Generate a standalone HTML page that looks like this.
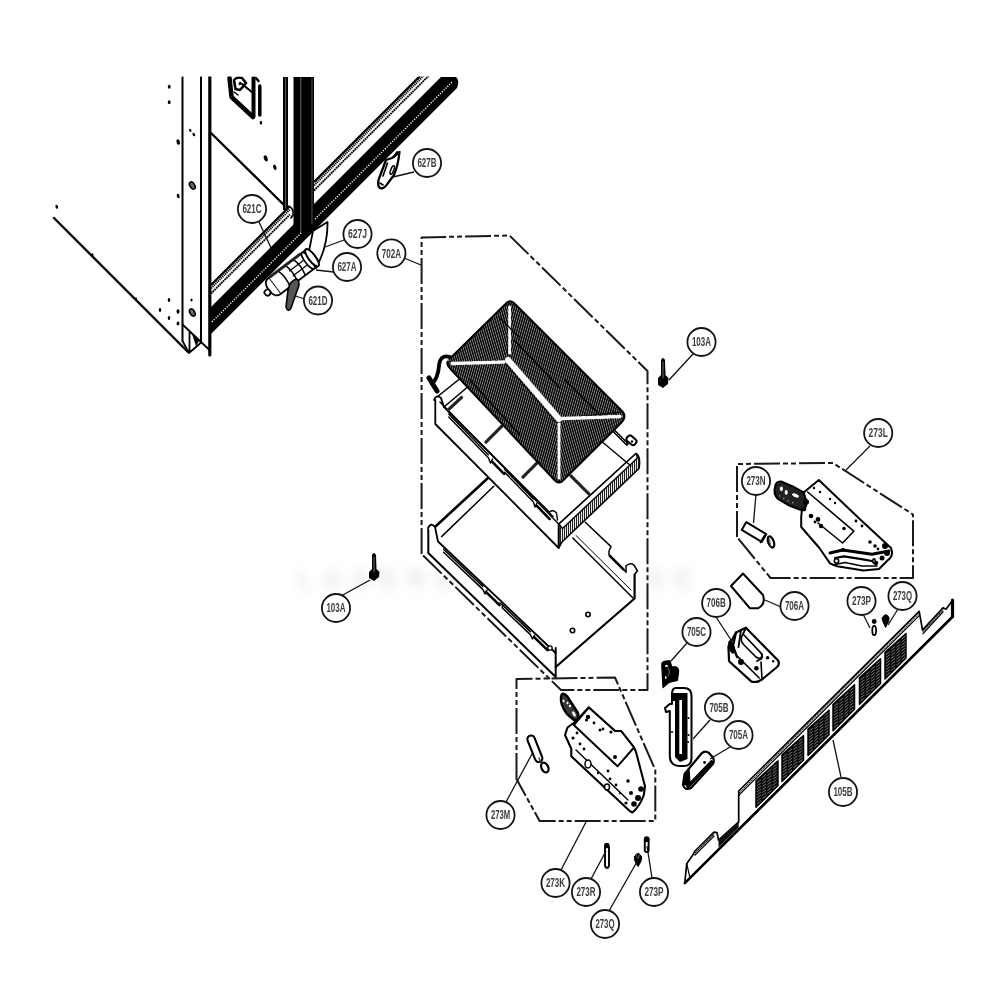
<!DOCTYPE html>
<html><head><meta charset="utf-8"><style>
html,body{margin:0;padding:0;background:#fff;width:1000px;height:1000px;overflow:hidden}
svg{display:block;filter:blur(0.5px)}
text{font-family:"Liberation Sans",sans-serif}
</style></head><body>
<svg width="1000" height="1000" viewBox="0 0 1000 1000">
<defs>
<pattern id="vs" width="2" height="4" patternUnits="userSpaceOnUse"><rect x="0" y="0" width="1.1" height="4" fill="#222"/></pattern>
<pattern id="vs2" width="2.2" height="4" patternUnits="userSpaceOnUse" patternTransform="rotate(8)"><rect x="0" y="0" width="1.2" height="4" fill="#1a1a1a"/></pattern>
<pattern id="hA" width="2.2" height="4" patternUnits="userSpaceOnUse" patternTransform="rotate(16)"><rect width="2.2" height="4" fill="#8a8a8a"/><rect x="0" y="0" width="1.35" height="4" fill="#000"/></pattern>
<pattern id="hB" width="2.2" height="4" patternUnits="userSpaceOnUse" patternTransform="rotate(-16)"><rect width="2.2" height="4" fill="#8a8a8a"/><rect x="0" y="0" width="1.35" height="4" fill="#000"/></pattern>
<clipPath id="cabclip"><rect x="0" y="76.5" width="1000" height="924"/></clipPath>
<clipPath id="coilclip"><path d="M504.5 305 Q509.6 298 515 304 L621 410 Q628 416 621 423 L564 479.5 Q559 485.5 554 479.5 L450.5 369 Q444 363 450.5 358 Z"/></clipPath>
<filter id="blur"><feGaussianBlur stdDeviation="6"/></filter>
</defs>
<rect width="1000" height="1000" fill="#fff"/>
<g id="cabinet" fill="none" stroke="#000" stroke-linecap="round" stroke-linejoin="round" clip-path="url(#cabclip)">
  <!-- left panel bottom edge -->
  <line x1="54" y1="218" x2="188" y2="352" stroke-width="2.4"/>
  <!-- post lines -->
  <line x1="182.5" y1="77" x2="182.5" y2="341" stroke-width="2"/>
  <line x1="201" y1="77" x2="201" y2="342" stroke-width="2"/>
  <line x1="209.8" y1="77" x2="209.8" y2="355" stroke-width="3.2"/>
  <!-- foot -->
  <path d="M182.5 324.5 L201 342 L209.5 350 M189.5 331 L189.5 352 M182.5 341 L189 353 L200.5 343" stroke-width="1.8"/>
  <path d="M192 334 L199 341 L196 346 Z" fill="#000" stroke="none"/>
  <!-- door diagonal -->
  <line x1="211" y1="133" x2="284" y2="205" stroke-width="2.4"/>
  <!-- bars -->
  <rect x="283" y="77" width="5" height="133" fill="#000" stroke="none"/>
  <line x1="285.6" y1="78" x2="285.6" y2="208" stroke="#777" stroke-width="0.8"/>
  <!-- thin rail (door bottom + upper rail) -->
  <g>
  <line x1="211" y1="285.0" x2="290" y2="206.0" stroke-width="2.2" stroke-linecap="butt"/>
  <line x1="211" y1="288.3" x2="290" y2="209.3" stroke-width="2.2" stroke-dasharray="1.2 0.8" stroke-linecap="butt"/>
  <line x1="211" y1="293.5" x2="290" y2="214.5" stroke-width="1.9" stroke-dasharray="1.8 0.6" stroke-linecap="butt"/>
  <line x1="314" y1="182.0" x2="432" y2="64.0" stroke-width="2.2" stroke-linecap="butt"/>
  <line x1="314" y1="185.3" x2="432" y2="67.3" stroke-width="2.2" stroke-dasharray="1.2 0.8" stroke-linecap="butt"/>
  <line x1="314" y1="190.5" x2="432" y2="72.5" stroke-width="1.9" stroke-dasharray="1.8 0.6" stroke-linecap="butt"/>
  <path d="M287 206 Q294 207 293 215 L291 218" stroke-width="1.6"/>
  </g>
  <!-- thick bar -->
  <path d="M210 308 L441 77 L456 77 Q460 80 457 88 L210 335 Z" fill="#000" stroke="none"/>
  <line x1="212" y1="322" x2="452" y2="82" stroke="#fff" stroke-width="1.3" stroke-dasharray="1.3 1.3" stroke-linecap="butt"/>
    <rect x="293.5" y="77" width="20.5" height="155" fill="#000" stroke="none"/>
  <line x1="300.8" y1="78" x2="300.8" y2="232" stroke="#777" stroke-width="0.9"/>
  <line x1="312" y1="78" x2="312" y2="224" stroke="#666" stroke-width="0.8"/>
  <!-- hinge bracket at top -->
  <path d="M229.5 78 L231.5 97 L253 117" stroke-width="4.5"/>
  <path d="M234 80 Q237 76.5 242 78 L246 83 L240 90 L235.5 89 Z" fill="#fff" stroke-width="2.6"/>
  <ellipse cx="240" cy="83.5" rx="1.3" ry="1.8" fill="#000" stroke="none" transform="rotate(30 240 83.5)"/>
  <path d="M242 84 L253 93" stroke-width="2.2"/>
  <path d="M253.5 78 L253.5 116" stroke-width="4"/>
  <path d="M259.8 86 L259.8 115" stroke-width="3.5"/>
  <path d="M256 78 L258.5 81" stroke-width="2.5"/>
  <path d="M234 92 L238 95" stroke-width="1.5"/>
  <ellipse cx="260.9" cy="122.8" rx="1.2" ry="2" fill="#000" stroke="none"/>
  <!-- dots -->
  <g fill="#000" stroke="none">
    <ellipse cx="56.8" cy="206.8" rx="1.3" ry="2" transform="rotate(-15 56.8 206.8)"/>
    <ellipse cx="169.2" cy="86.8" rx="1.4" ry="2"/>
    <ellipse cx="169.2" cy="102.2" rx="1.4" ry="2"/>
    <ellipse cx="178.2" cy="142" rx="1.7" ry="2.8" transform="rotate(-15 178.2 142)"/>
    <ellipse cx="178.2" cy="196" rx="1.4" ry="2.3" transform="rotate(-15 178.2 196)"/>
    <ellipse cx="190.3" cy="130.4" rx="1.1" ry="1.7" transform="rotate(-30 190.3 130.4)"/>
    <ellipse cx="193.8" cy="134.6" rx="1.2" ry="1.8" transform="rotate(-30 193.8 134.6)"/>
    <ellipse cx="265.7" cy="158.4" rx="1.8" ry="3.2" transform="rotate(-20 265.7 158.4)"/>
    <ellipse cx="274.8" cy="167.3" rx="1.6" ry="2.8" transform="rotate(-20 274.8 167.3)"/>
    <ellipse cx="169" cy="300" rx="1.3" ry="1.9"/>
    <ellipse cx="160" cy="310" rx="1.3" ry="1.9"/>
    <ellipse cx="178" cy="311.5" rx="1.5" ry="2.2"/>
    <ellipse cx="178" cy="323.5" rx="1.4" ry="2"/>
    <ellipse cx="169" cy="318" rx="1.3" ry="1.9"/>
    <ellipse cx="191.5" cy="300" rx="1.1" ry="1.6"/>
    <ellipse cx="92.5" cy="255" rx="1" ry="1.8"/>
    <ellipse cx="136" cy="299" rx="1" ry="1.8"/>
  </g>
  <g fill="#666" stroke="#000" stroke-width="1.5">
    <ellipse cx="192.3" cy="185.5" rx="2.4" ry="4" transform="rotate(-30 192.3 185.5)"/>
    <ellipse cx="192.3" cy="312.5" rx="2.4" ry="4" transform="rotate(-30 192.3 312.5)"/>
  </g>
  <!-- 627B hook -->
  <path d="M386 160 L378.5 180 Q377 187.5 381.5 188.5 Q385 188 388 183 L394 175 Q398 166 399.5 152 L392 158 Z" fill="#fff" stroke-width="2.3"/>
  <ellipse cx="392.3" cy="170" rx="1.5" ry="4.5" transform="rotate(22 392.3 170)" fill="#fff" stroke-width="1.6"/>
  <path d="M387.5 163 L383 176 M380 183 L383 185" stroke-width="1.6"/>
  <path d="M394 157 L397 152" stroke-width="2"/>
  <!-- hinge / cylinder parts 621C 627A 627J 621D -->
  <path d="M313 231 L327.5 222 Q328 246 316 268 L309 251 Z" fill="#fff" stroke-width="1.8"/>
  <g transform="translate(274.5 286) rotate(-37)" stroke-width="1.8" fill="#fff">
    <rect x="0" y="-10" width="47" height="20"/>
    <path d="M0 -10 Q-7 -10 -7 0 Q-7 10 0 10"/>
    <circle cx="-9.5" cy="1" r="3"/>
    <path d="M12 -10 Q15 0 12 10 M21 -10 Q24 0 21 10 M31 -10 Q34 0 31 10" stroke-width="1.5" fill="none"/>
    <path d="M21 -3 L40 -3 M21 3 L40 3" stroke-width="1.2"/>
    <ellipse cx="42" cy="0" rx="3" ry="10" stroke-width="1.5"/>
    <ellipse cx="47" cy="0" rx="3.5" ry="10.5" stroke-width="2"/>
    <path d="M2 -10 L40 -10" stroke-width="3" stroke="#222" stroke-dasharray="1 1"/>
  </g>
  <path d="M297 279 Q301 283 297 291 L291 308 Q288 313 286 307 L288 290 Q290 280 297 279 Z" fill="#555" stroke-width="1.6"/>
</g>

<g id="middle" fill="none" stroke="#000" stroke-linecap="round" stroke-linejoin="round">
  <!-- watermark -->
  <text x="500" y="588" text-anchor="middle" font-size="26" font-weight="bold" fill="#e6e6e6" stroke="none" filter="url(#blur)" letter-spacing="10">LASERENTERPRISE</text>
  <!-- 702A dashed box -->
  <path d="M421.6 554 L421.6 237.5 L509.5 235.5 L647.5 371 L647.5 690 L561 690 Z" stroke="#1a1a1a" stroke-width="2" stroke-dasharray="26 3 5 3 5 3" stroke-linecap="butt"/>
  <!-- 103A screws -->
  <g fill="#000" stroke="none">
    <path d="M661 360 Q663 356 665 360 L665.5 375 L668.5 378 L668 384 L663 388 L658 385 L658 378 L661 375 Z"/>
    <path d="M372 555 Q374 551 376 555 L376.5 569 L379.5 572 L379 577 L374 581 L369 578 L369 572 L372 569 Z"/>
  </g>
  <line x1="663" y1="362" x2="663" y2="378" stroke="#888" stroke-width="0.8"/>
  <line x1="374" y1="557" x2="374" y2="572" stroke="#888" stroke-width="0.8"/>

  <!-- lower tray -->
  <g stroke-width="1.8" fill="#fff">
    <path d="M436 526 L488 478 L584 521 L637 566 L636 600 L556.6 667 L555.7 677 L428.3 553 L428.3 529 Z" stroke="none"/>
    <path d="M436 526 L488 478" stroke-width="2.6"/>
    <path d="M441.6 536.6 L493.8 486.2" stroke-width="1.5"/>
    <path d="M428.3 529 L428.3 553 L555.7 677 L555.7 648" stroke-width="2"/>
    <path d="M428 528 Q431 522 435 527 L438 541.5 L555.7 653" />
    <path d="M555.7 667 L634.6 598.5 L634.6 574" stroke-width="2.2"/>
    <path d="M626 572 L626 566 Q630 562 634 565 L637.5 571 L634.6 574" stroke-width="1.5"/>
    <path d="M572.8 538 L633 598" stroke-width="1.5"/>
    <path d="M576 535.5 L631 590" stroke-width="1"/>
    <path d="M584 521 L611 546.6 L609 551 L609 555 L626 572" stroke-width="1.5"/>
    <path d="M610 556 L624 570" stroke-width="2.6" stroke-dasharray="1.2 1"/>
    <path d="M443.6 549.3 L482.8 586.4 M443.6 552.3 L482.8 589.4 L485 594 L487 590" stroke-width="1.5"/>
    <path d="M502.4 605 L530.4 631.6 M502.4 608 L530.4 634.6 L532.5 639 L534.5 635.5" stroke-width="1.5"/>
    <path d="M486 592 L500 605.5 M534 637 L548 650.5" stroke-width="2.6" stroke-dasharray="1.2 1"/>
    <path d="M500 603 L502.4 605 L502.4 608" stroke-width="1.5"/>
    <circle cx="550" cy="648" r="2.2" stroke-width="1.3"/>
    <circle cx="588" cy="614.5" r="2.2" stroke-width="1.6"/>
    <circle cx="572.5" cy="630.5" r="2.2" stroke-width="1.6"/>
  </g>

  <!-- upper tray -->
  <g stroke-width="1.8" fill="#fff">
    <path d="M434.5 398 L460 378 L615 431 L639 462 L640 468 L559 547 L435.3 424 Z" stroke="none"/>
    <path d="M434 400 Q436 394 441 398 L444 407 L553 516" />
    <path d="M435.3 400 L435.3 424 L558.7 548 L558.7 524" />
    <path d="M440 402 L558.7 524" stroke-width="1.4"/>
    <path d="M444 407 L470 385" stroke-width="1.6"/>
    <path d="M437 397 L462 377" stroke-width="1.6"/>
    <path d="M448.8 414 L488.4 454.8 M448.8 417 L488.4 457.8 L490.5 463 L492.5 459" stroke-width="1.5"/>
    <path d="M504.6 469.3 L533.4 498.9 M504.6 472.3 L533.4 501.9 L535 507 L537 503" stroke-width="1.5"/>
    <path d="M492.5 462 L504.6 474.5 M537 506 L549.6 519" stroke-width="2.6" stroke-dasharray="1.2 1"/>
    <path d="M549.6 512 Q553 509 556.5 513 L557.5 520" stroke-width="1.4"/>
    <!-- right hatched face -->
    <path d="M558.7 524 L636 453.5 Q641 456 639 468.5 L562 542 L558.7 548 Z" fill="url(#vs)" stroke-width="1.6"/>
    <path d="M559 524 L636 453.5 L637.5 458 L562.5 528.5 Z" fill="#fff" stroke-width="1.4"/>
    <rect x="-5.2" y="-3.3" width="10.4" height="6.6" rx="2.6" transform="translate(631.5 440.3) rotate(40)" stroke-width="2"/>
    <circle cx="632" cy="441.5" r="1.2" fill="#000" stroke="none"/>
    <path d="M612.5 429.5 L627 444" stroke-width="3.2"/>
    <path d="M613 430 L626 443" stroke="#fff" stroke-width="0.9" stroke-dasharray="1 1.5"/>
    <path d="M600 440 L631 466" stroke-width="1.4"/>
  </g>
  <!-- cross members -->
  <g stroke="#222" stroke-width="3.2" stroke-dasharray="1.6 0.8">
    <path d="M486 442 L502 426"/>
    <path d="M523 477 L539 461"/>
    <path d="M571 476 L589 494"/>
    <path d="M448 410 L462 397"/>
  </g>

  <!-- coil -->
  <g clip-path="url(#coilclip)">
    <path d="M509.6 290 L508 360 L440 364 L440 290 Z" fill="url(#hB)"/>
    <path d="M509.6 290 L640 410 L559 419 L508 360 Z" fill="url(#hA)"/>
    <path d="M440 364 L508 360 L559 419 L559 495 L440 495 Z" fill="url(#hA)"/>
    <path d="M559 419 L640 410 L640 495 L559 495 Z" fill="url(#hB)"/>
    <path d="M508 360 L559 419" stroke="#fff" stroke-width="6"/>
    <path d="M508 360 L559 419" stroke="#000" stroke-width="1" transform="translate(-4 2)"/>
    <path d="M452 363.5 L504 362 M562 418.5 L621 416.5" stroke="#fff" stroke-width="3.5" stroke-dasharray="3 2"/>
    <path d="M509.6 307 L509.6 355 M559 424 L559 478" stroke="#fff" stroke-width="3" stroke-dasharray="2 2"/>
    <path d="M500 318 L520 338 M514 340 L560 388 M470 380 L520 435 M565 380 L600 415" stroke="#000" stroke-width="1.4"/>
  </g>
  <path id="coilpath" d="M504.5 305 Q509.6 298 515 304 L621 410 Q628 416 621 423 L564 479.5 Q559 485.5 554 479.5 L450.5 369 Q444 363 450.5 358 Z" stroke="#000" stroke-width="2"/>
  <!-- pipe -->
  <path d="M450 357 Q440 354 439 366 Q438 378 432 384" stroke="#000" stroke-width="3.8" fill="none"/>
  <path d="M449 360 Q443 359 442 367" stroke="#fff" stroke-width="1" fill="none"/>
  <path d="M429 378 L437 391" stroke="#000" stroke-width="5"/>
</g>

<g id="right" fill="none" stroke="#000" stroke-linecap="round" stroke-linejoin="round">
<path d="M684.8 883.1 L686.7 863.7 L693.5 854.0 L694.5 851.5 L714.0 832.1 L717.0 832.6 L718.5 840.1 L738.7 822.0 L738.7 791.0 L919.2 611.4 L922.5 630.1 L943.0 607.7 L946.0 609.2 L952.8 600.0 L952.8 616.5 Z" fill="#fff" stroke-width="1.7"/>
<line x1="684.8" y1="883.1" x2="952.8" y2="616.5" stroke-width="2.6"/>
<line x1="952.5" y1="600.0" x2="952.5" y2="616.5" stroke-width="3.2"/>
<line x1="739" y1="795.0" x2="919" y2="615.9" stroke-width="1.3"/>
<line x1="739" y1="792.9" x2="919" y2="613.8" stroke-width="0.9" stroke-dasharray="1 1.4"/>
<line x1="695" y1="855.0" x2="714" y2="836.1" stroke-width="1.4"/>
<line x1="695" y1="853.0" x2="714" y2="834.1" stroke-width="1" stroke-dasharray="1 1.2"/>
<line x1="923" y1="633.6" x2="943" y2="611.7" stroke-width="1.4"/>
<line x1="923" y1="631.6" x2="943" y2="609.7" stroke-width="1" stroke-dasharray="1 1.2"/>
<path d="M718.5 840.1 L738.7 822.0 L738.7 827.5 L718.5 847.6 Z" fill="#111" stroke="none"/>
<line x1="686.7" y1="863.7" x2="690" y2="878.0" stroke-width="1.2"/>
<path d="M756.0 780.8 L778.0 760.9 L778.0 785.4 L756.0 807.3 Z" fill="#0a0a0a" stroke="#000" stroke-width="1.5"/>
<line x1="757.4" y1="782.6" x2="760.6" y2="780.2" stroke="#7a7a7a" stroke-width="0.95"/>
<line x1="762.6" y1="777.4" x2="765.8" y2="775.0" stroke="#7a7a7a" stroke-width="0.95"/>
<line x1="767.8" y1="772.3" x2="771.0" y2="769.9" stroke="#7a7a7a" stroke-width="0.95"/>
<line x1="773.0" y1="767.1" x2="776.2" y2="764.7" stroke="#7a7a7a" stroke-width="0.95"/>
<line x1="757.4" y1="785.6" x2="760.6" y2="783.2" stroke="#7a7a7a" stroke-width="0.95"/>
<line x1="762.6" y1="780.4" x2="765.8" y2="778.0" stroke="#7a7a7a" stroke-width="0.95"/>
<line x1="767.8" y1="775.3" x2="771.0" y2="772.9" stroke="#7a7a7a" stroke-width="0.95"/>
<line x1="773.0" y1="770.1" x2="776.2" y2="767.7" stroke="#7a7a7a" stroke-width="0.95"/>
<line x1="757.4" y1="788.6" x2="760.6" y2="786.2" stroke="#7a7a7a" stroke-width="0.95"/>
<line x1="762.6" y1="783.4" x2="765.8" y2="781.0" stroke="#7a7a7a" stroke-width="0.95"/>
<line x1="767.8" y1="778.3" x2="771.0" y2="775.9" stroke="#7a7a7a" stroke-width="0.95"/>
<line x1="773.0" y1="773.1" x2="776.2" y2="770.7" stroke="#7a7a7a" stroke-width="0.95"/>
<line x1="757.4" y1="791.6" x2="760.6" y2="789.2" stroke="#7a7a7a" stroke-width="0.95"/>
<line x1="762.6" y1="786.4" x2="765.8" y2="784.0" stroke="#7a7a7a" stroke-width="0.95"/>
<line x1="767.8" y1="781.3" x2="771.0" y2="778.9" stroke="#7a7a7a" stroke-width="0.95"/>
<line x1="773.0" y1="776.1" x2="776.2" y2="773.7" stroke="#7a7a7a" stroke-width="0.95"/>
<line x1="757.4" y1="794.6" x2="760.6" y2="792.2" stroke="#7a7a7a" stroke-width="0.95"/>
<line x1="762.6" y1="789.4" x2="765.8" y2="787.0" stroke="#7a7a7a" stroke-width="0.95"/>
<line x1="767.8" y1="784.3" x2="771.0" y2="781.9" stroke="#7a7a7a" stroke-width="0.95"/>
<line x1="773.0" y1="779.1" x2="776.2" y2="776.7" stroke="#7a7a7a" stroke-width="0.95"/>
<line x1="757.4" y1="797.6" x2="760.6" y2="795.2" stroke="#7a7a7a" stroke-width="0.95"/>
<line x1="762.6" y1="792.4" x2="765.8" y2="790.0" stroke="#7a7a7a" stroke-width="0.95"/>
<line x1="767.8" y1="787.3" x2="771.0" y2="784.9" stroke="#7a7a7a" stroke-width="0.95"/>
<line x1="773.0" y1="782.1" x2="776.2" y2="779.7" stroke="#7a7a7a" stroke-width="0.95"/>
<line x1="757.4" y1="800.6" x2="760.6" y2="798.2" stroke="#7a7a7a" stroke-width="0.95"/>
<line x1="762.6" y1="795.4" x2="765.8" y2="793.0" stroke="#7a7a7a" stroke-width="0.95"/>
<line x1="767.8" y1="790.3" x2="771.0" y2="787.9" stroke="#7a7a7a" stroke-width="0.95"/>
<line x1="773.0" y1="785.1" x2="776.2" y2="782.7" stroke="#7a7a7a" stroke-width="0.95"/>
<line x1="757.4" y1="803.6" x2="760.6" y2="801.2" stroke="#7a7a7a" stroke-width="0.95"/>
<line x1="762.6" y1="798.4" x2="765.8" y2="796.0" stroke="#7a7a7a" stroke-width="0.95"/>
<line x1="767.8" y1="793.3" x2="771.0" y2="790.9" stroke="#7a7a7a" stroke-width="0.95"/>
<line x1="773.0" y1="788.1" x2="776.2" y2="785.7" stroke="#7a7a7a" stroke-width="0.95"/>
<path d="M782.0 754.9 L803.5 735.5 L803.5 760.0 L782.0 781.4 Z" fill="#0a0a0a" stroke="#000" stroke-width="1.5"/>
<line x1="783.4" y1="756.7" x2="786.6" y2="754.3" stroke="#7a7a7a" stroke-width="0.95"/>
<line x1="788.6" y1="751.6" x2="791.8" y2="749.2" stroke="#7a7a7a" stroke-width="0.95"/>
<line x1="793.8" y1="746.4" x2="797.0" y2="744.0" stroke="#7a7a7a" stroke-width="0.95"/>
<line x1="799.0" y1="741.2" x2="802.2" y2="738.8" stroke="#7a7a7a" stroke-width="0.95"/>
<line x1="783.4" y1="759.7" x2="786.6" y2="757.3" stroke="#7a7a7a" stroke-width="0.95"/>
<line x1="788.6" y1="754.6" x2="791.8" y2="752.2" stroke="#7a7a7a" stroke-width="0.95"/>
<line x1="793.8" y1="749.4" x2="797.0" y2="747.0" stroke="#7a7a7a" stroke-width="0.95"/>
<line x1="799.0" y1="744.2" x2="802.2" y2="741.8" stroke="#7a7a7a" stroke-width="0.95"/>
<line x1="783.4" y1="762.7" x2="786.6" y2="760.3" stroke="#7a7a7a" stroke-width="0.95"/>
<line x1="788.6" y1="757.6" x2="791.8" y2="755.2" stroke="#7a7a7a" stroke-width="0.95"/>
<line x1="793.8" y1="752.4" x2="797.0" y2="750.0" stroke="#7a7a7a" stroke-width="0.95"/>
<line x1="799.0" y1="747.2" x2="802.2" y2="744.8" stroke="#7a7a7a" stroke-width="0.95"/>
<line x1="783.4" y1="765.7" x2="786.6" y2="763.3" stroke="#7a7a7a" stroke-width="0.95"/>
<line x1="788.6" y1="760.6" x2="791.8" y2="758.2" stroke="#7a7a7a" stroke-width="0.95"/>
<line x1="793.8" y1="755.4" x2="797.0" y2="753.0" stroke="#7a7a7a" stroke-width="0.95"/>
<line x1="799.0" y1="750.2" x2="802.2" y2="747.8" stroke="#7a7a7a" stroke-width="0.95"/>
<line x1="783.4" y1="768.7" x2="786.6" y2="766.3" stroke="#7a7a7a" stroke-width="0.95"/>
<line x1="788.6" y1="763.6" x2="791.8" y2="761.2" stroke="#7a7a7a" stroke-width="0.95"/>
<line x1="793.8" y1="758.4" x2="797.0" y2="756.0" stroke="#7a7a7a" stroke-width="0.95"/>
<line x1="799.0" y1="753.2" x2="802.2" y2="750.8" stroke="#7a7a7a" stroke-width="0.95"/>
<line x1="783.4" y1="771.7" x2="786.6" y2="769.3" stroke="#7a7a7a" stroke-width="0.95"/>
<line x1="788.6" y1="766.6" x2="791.8" y2="764.2" stroke="#7a7a7a" stroke-width="0.95"/>
<line x1="793.8" y1="761.4" x2="797.0" y2="759.0" stroke="#7a7a7a" stroke-width="0.95"/>
<line x1="799.0" y1="756.2" x2="802.2" y2="753.8" stroke="#7a7a7a" stroke-width="0.95"/>
<line x1="783.4" y1="774.7" x2="786.6" y2="772.3" stroke="#7a7a7a" stroke-width="0.95"/>
<line x1="788.6" y1="769.6" x2="791.8" y2="767.2" stroke="#7a7a7a" stroke-width="0.95"/>
<line x1="793.8" y1="764.4" x2="797.0" y2="762.0" stroke="#7a7a7a" stroke-width="0.95"/>
<line x1="799.0" y1="759.2" x2="802.2" y2="756.8" stroke="#7a7a7a" stroke-width="0.95"/>
<line x1="783.4" y1="777.7" x2="786.6" y2="775.3" stroke="#7a7a7a" stroke-width="0.95"/>
<line x1="788.6" y1="772.6" x2="791.8" y2="770.2" stroke="#7a7a7a" stroke-width="0.95"/>
<line x1="793.8" y1="767.4" x2="797.0" y2="765.0" stroke="#7a7a7a" stroke-width="0.95"/>
<line x1="799.0" y1="762.2" x2="802.2" y2="759.8" stroke="#7a7a7a" stroke-width="0.95"/>
<path d="M808.0 729.0 L829.0 710.2 L829.0 734.7 L808.0 755.5 Z" fill="#0a0a0a" stroke="#000" stroke-width="1.5"/>
<line x1="809.4" y1="730.9" x2="812.6" y2="728.5" stroke="#7a7a7a" stroke-width="0.95"/>
<line x1="814.6" y1="725.7" x2="817.8" y2="723.3" stroke="#7a7a7a" stroke-width="0.95"/>
<line x1="819.8" y1="720.5" x2="823.0" y2="718.1" stroke="#7a7a7a" stroke-width="0.95"/>
<line x1="825.0" y1="715.3" x2="828.2" y2="712.9" stroke="#7a7a7a" stroke-width="0.95"/>
<line x1="809.4" y1="733.9" x2="812.6" y2="731.5" stroke="#7a7a7a" stroke-width="0.95"/>
<line x1="814.6" y1="728.7" x2="817.8" y2="726.3" stroke="#7a7a7a" stroke-width="0.95"/>
<line x1="819.8" y1="723.5" x2="823.0" y2="721.1" stroke="#7a7a7a" stroke-width="0.95"/>
<line x1="825.0" y1="718.3" x2="828.2" y2="715.9" stroke="#7a7a7a" stroke-width="0.95"/>
<line x1="809.4" y1="736.9" x2="812.6" y2="734.5" stroke="#7a7a7a" stroke-width="0.95"/>
<line x1="814.6" y1="731.7" x2="817.8" y2="729.3" stroke="#7a7a7a" stroke-width="0.95"/>
<line x1="819.8" y1="726.5" x2="823.0" y2="724.1" stroke="#7a7a7a" stroke-width="0.95"/>
<line x1="825.0" y1="721.3" x2="828.2" y2="718.9" stroke="#7a7a7a" stroke-width="0.95"/>
<line x1="809.4" y1="739.9" x2="812.6" y2="737.5" stroke="#7a7a7a" stroke-width="0.95"/>
<line x1="814.6" y1="734.7" x2="817.8" y2="732.3" stroke="#7a7a7a" stroke-width="0.95"/>
<line x1="819.8" y1="729.5" x2="823.0" y2="727.1" stroke="#7a7a7a" stroke-width="0.95"/>
<line x1="825.0" y1="724.3" x2="828.2" y2="721.9" stroke="#7a7a7a" stroke-width="0.95"/>
<line x1="809.4" y1="742.9" x2="812.6" y2="740.5" stroke="#7a7a7a" stroke-width="0.95"/>
<line x1="814.6" y1="737.7" x2="817.8" y2="735.3" stroke="#7a7a7a" stroke-width="0.95"/>
<line x1="819.8" y1="732.5" x2="823.0" y2="730.1" stroke="#7a7a7a" stroke-width="0.95"/>
<line x1="825.0" y1="727.3" x2="828.2" y2="724.9" stroke="#7a7a7a" stroke-width="0.95"/>
<line x1="809.4" y1="745.9" x2="812.6" y2="743.5" stroke="#7a7a7a" stroke-width="0.95"/>
<line x1="814.6" y1="740.7" x2="817.8" y2="738.3" stroke="#7a7a7a" stroke-width="0.95"/>
<line x1="819.8" y1="735.5" x2="823.0" y2="733.1" stroke="#7a7a7a" stroke-width="0.95"/>
<line x1="825.0" y1="730.3" x2="828.2" y2="727.9" stroke="#7a7a7a" stroke-width="0.95"/>
<line x1="809.4" y1="748.9" x2="812.6" y2="746.5" stroke="#7a7a7a" stroke-width="0.95"/>
<line x1="814.6" y1="743.7" x2="817.8" y2="741.3" stroke="#7a7a7a" stroke-width="0.95"/>
<line x1="819.8" y1="738.5" x2="823.0" y2="736.1" stroke="#7a7a7a" stroke-width="0.95"/>
<line x1="825.0" y1="733.3" x2="828.2" y2="730.9" stroke="#7a7a7a" stroke-width="0.95"/>
<line x1="809.4" y1="751.9" x2="812.6" y2="749.5" stroke="#7a7a7a" stroke-width="0.95"/>
<line x1="814.6" y1="746.7" x2="817.8" y2="744.3" stroke="#7a7a7a" stroke-width="0.95"/>
<line x1="819.8" y1="741.5" x2="823.0" y2="739.1" stroke="#7a7a7a" stroke-width="0.95"/>
<line x1="825.0" y1="736.3" x2="828.2" y2="733.9" stroke="#7a7a7a" stroke-width="0.95"/>
<path d="M833.0 704.2 L854.5 684.8 L854.5 709.3 L833.0 730.7 Z" fill="#0a0a0a" stroke="#000" stroke-width="1.5"/>
<line x1="834.4" y1="706.0" x2="837.6" y2="703.6" stroke="#7a7a7a" stroke-width="0.95"/>
<line x1="839.6" y1="700.8" x2="842.8" y2="698.4" stroke="#7a7a7a" stroke-width="0.95"/>
<line x1="844.8" y1="695.6" x2="848.0" y2="693.2" stroke="#7a7a7a" stroke-width="0.95"/>
<line x1="850.0" y1="690.5" x2="853.2" y2="688.1" stroke="#7a7a7a" stroke-width="0.95"/>
<line x1="834.4" y1="709.0" x2="837.6" y2="706.6" stroke="#7a7a7a" stroke-width="0.95"/>
<line x1="839.6" y1="703.8" x2="842.8" y2="701.4" stroke="#7a7a7a" stroke-width="0.95"/>
<line x1="844.8" y1="698.6" x2="848.0" y2="696.2" stroke="#7a7a7a" stroke-width="0.95"/>
<line x1="850.0" y1="693.5" x2="853.2" y2="691.1" stroke="#7a7a7a" stroke-width="0.95"/>
<line x1="834.4" y1="712.0" x2="837.6" y2="709.6" stroke="#7a7a7a" stroke-width="0.95"/>
<line x1="839.6" y1="706.8" x2="842.8" y2="704.4" stroke="#7a7a7a" stroke-width="0.95"/>
<line x1="844.8" y1="701.6" x2="848.0" y2="699.2" stroke="#7a7a7a" stroke-width="0.95"/>
<line x1="850.0" y1="696.5" x2="853.2" y2="694.1" stroke="#7a7a7a" stroke-width="0.95"/>
<line x1="834.4" y1="715.0" x2="837.6" y2="712.6" stroke="#7a7a7a" stroke-width="0.95"/>
<line x1="839.6" y1="709.8" x2="842.8" y2="707.4" stroke="#7a7a7a" stroke-width="0.95"/>
<line x1="844.8" y1="704.6" x2="848.0" y2="702.2" stroke="#7a7a7a" stroke-width="0.95"/>
<line x1="850.0" y1="699.5" x2="853.2" y2="697.1" stroke="#7a7a7a" stroke-width="0.95"/>
<line x1="834.4" y1="718.0" x2="837.6" y2="715.6" stroke="#7a7a7a" stroke-width="0.95"/>
<line x1="839.6" y1="712.8" x2="842.8" y2="710.4" stroke="#7a7a7a" stroke-width="0.95"/>
<line x1="844.8" y1="707.6" x2="848.0" y2="705.2" stroke="#7a7a7a" stroke-width="0.95"/>
<line x1="850.0" y1="702.5" x2="853.2" y2="700.1" stroke="#7a7a7a" stroke-width="0.95"/>
<line x1="834.4" y1="721.0" x2="837.6" y2="718.6" stroke="#7a7a7a" stroke-width="0.95"/>
<line x1="839.6" y1="715.8" x2="842.8" y2="713.4" stroke="#7a7a7a" stroke-width="0.95"/>
<line x1="844.8" y1="710.6" x2="848.0" y2="708.2" stroke="#7a7a7a" stroke-width="0.95"/>
<line x1="850.0" y1="705.5" x2="853.2" y2="703.1" stroke="#7a7a7a" stroke-width="0.95"/>
<line x1="834.4" y1="724.0" x2="837.6" y2="721.6" stroke="#7a7a7a" stroke-width="0.95"/>
<line x1="839.6" y1="718.8" x2="842.8" y2="716.4" stroke="#7a7a7a" stroke-width="0.95"/>
<line x1="844.8" y1="713.6" x2="848.0" y2="711.2" stroke="#7a7a7a" stroke-width="0.95"/>
<line x1="850.0" y1="708.5" x2="853.2" y2="706.1" stroke="#7a7a7a" stroke-width="0.95"/>
<line x1="834.4" y1="727.0" x2="837.6" y2="724.6" stroke="#7a7a7a" stroke-width="0.95"/>
<line x1="839.6" y1="721.8" x2="842.8" y2="719.4" stroke="#7a7a7a" stroke-width="0.95"/>
<line x1="844.8" y1="716.6" x2="848.0" y2="714.2" stroke="#7a7a7a" stroke-width="0.95"/>
<line x1="850.0" y1="711.5" x2="853.2" y2="709.1" stroke="#7a7a7a" stroke-width="0.95"/>
<path d="M859.5 677.8 L880.5 658.9 L880.5 683.4 L859.5 704.3 Z" fill="#0a0a0a" stroke="#000" stroke-width="1.5"/>
<line x1="860.9" y1="679.6" x2="864.1" y2="677.2" stroke="#7a7a7a" stroke-width="0.95"/>
<line x1="866.1" y1="674.4" x2="869.3" y2="672.0" stroke="#7a7a7a" stroke-width="0.95"/>
<line x1="871.3" y1="669.3" x2="874.5" y2="666.9" stroke="#7a7a7a" stroke-width="0.95"/>
<line x1="876.5" y1="664.1" x2="879.7" y2="661.7" stroke="#7a7a7a" stroke-width="0.95"/>
<line x1="860.9" y1="682.6" x2="864.1" y2="680.2" stroke="#7a7a7a" stroke-width="0.95"/>
<line x1="866.1" y1="677.4" x2="869.3" y2="675.0" stroke="#7a7a7a" stroke-width="0.95"/>
<line x1="871.3" y1="672.3" x2="874.5" y2="669.9" stroke="#7a7a7a" stroke-width="0.95"/>
<line x1="876.5" y1="667.1" x2="879.7" y2="664.7" stroke="#7a7a7a" stroke-width="0.95"/>
<line x1="860.9" y1="685.6" x2="864.1" y2="683.2" stroke="#7a7a7a" stroke-width="0.95"/>
<line x1="866.1" y1="680.4" x2="869.3" y2="678.0" stroke="#7a7a7a" stroke-width="0.95"/>
<line x1="871.3" y1="675.3" x2="874.5" y2="672.9" stroke="#7a7a7a" stroke-width="0.95"/>
<line x1="876.5" y1="670.1" x2="879.7" y2="667.7" stroke="#7a7a7a" stroke-width="0.95"/>
<line x1="860.9" y1="688.6" x2="864.1" y2="686.2" stroke="#7a7a7a" stroke-width="0.95"/>
<line x1="866.1" y1="683.4" x2="869.3" y2="681.0" stroke="#7a7a7a" stroke-width="0.95"/>
<line x1="871.3" y1="678.3" x2="874.5" y2="675.9" stroke="#7a7a7a" stroke-width="0.95"/>
<line x1="876.5" y1="673.1" x2="879.7" y2="670.7" stroke="#7a7a7a" stroke-width="0.95"/>
<line x1="860.9" y1="691.6" x2="864.1" y2="689.2" stroke="#7a7a7a" stroke-width="0.95"/>
<line x1="866.1" y1="686.4" x2="869.3" y2="684.0" stroke="#7a7a7a" stroke-width="0.95"/>
<line x1="871.3" y1="681.3" x2="874.5" y2="678.9" stroke="#7a7a7a" stroke-width="0.95"/>
<line x1="876.5" y1="676.1" x2="879.7" y2="673.7" stroke="#7a7a7a" stroke-width="0.95"/>
<line x1="860.9" y1="694.6" x2="864.1" y2="692.2" stroke="#7a7a7a" stroke-width="0.95"/>
<line x1="866.1" y1="689.4" x2="869.3" y2="687.0" stroke="#7a7a7a" stroke-width="0.95"/>
<line x1="871.3" y1="684.3" x2="874.5" y2="681.9" stroke="#7a7a7a" stroke-width="0.95"/>
<line x1="876.5" y1="679.1" x2="879.7" y2="676.7" stroke="#7a7a7a" stroke-width="0.95"/>
<line x1="860.9" y1="697.6" x2="864.1" y2="695.2" stroke="#7a7a7a" stroke-width="0.95"/>
<line x1="866.1" y1="692.4" x2="869.3" y2="690.0" stroke="#7a7a7a" stroke-width="0.95"/>
<line x1="871.3" y1="687.3" x2="874.5" y2="684.9" stroke="#7a7a7a" stroke-width="0.95"/>
<line x1="876.5" y1="682.1" x2="879.7" y2="679.7" stroke="#7a7a7a" stroke-width="0.95"/>
<line x1="860.9" y1="700.6" x2="864.1" y2="698.2" stroke="#7a7a7a" stroke-width="0.95"/>
<line x1="866.1" y1="695.4" x2="869.3" y2="693.0" stroke="#7a7a7a" stroke-width="0.95"/>
<line x1="871.3" y1="690.3" x2="874.5" y2="687.9" stroke="#7a7a7a" stroke-width="0.95"/>
<line x1="876.5" y1="685.1" x2="879.7" y2="682.7" stroke="#7a7a7a" stroke-width="0.95"/>
<path d="M885.0 652.4 L906.0 633.5 L906.0 658.0 L885.0 678.9 Z" fill="#0a0a0a" stroke="#000" stroke-width="1.5"/>
<line x1="886.4" y1="654.2" x2="889.6" y2="651.8" stroke="#7a7a7a" stroke-width="0.95"/>
<line x1="891.6" y1="649.1" x2="894.8" y2="646.7" stroke="#7a7a7a" stroke-width="0.95"/>
<line x1="896.8" y1="643.9" x2="900.0" y2="641.5" stroke="#7a7a7a" stroke-width="0.95"/>
<line x1="902.0" y1="638.7" x2="905.2" y2="636.3" stroke="#7a7a7a" stroke-width="0.95"/>
<line x1="886.4" y1="657.2" x2="889.6" y2="654.8" stroke="#7a7a7a" stroke-width="0.95"/>
<line x1="891.6" y1="652.1" x2="894.8" y2="649.7" stroke="#7a7a7a" stroke-width="0.95"/>
<line x1="896.8" y1="646.9" x2="900.0" y2="644.5" stroke="#7a7a7a" stroke-width="0.95"/>
<line x1="902.0" y1="641.7" x2="905.2" y2="639.3" stroke="#7a7a7a" stroke-width="0.95"/>
<line x1="886.4" y1="660.2" x2="889.6" y2="657.8" stroke="#7a7a7a" stroke-width="0.95"/>
<line x1="891.6" y1="655.1" x2="894.8" y2="652.7" stroke="#7a7a7a" stroke-width="0.95"/>
<line x1="896.8" y1="649.9" x2="900.0" y2="647.5" stroke="#7a7a7a" stroke-width="0.95"/>
<line x1="902.0" y1="644.7" x2="905.2" y2="642.3" stroke="#7a7a7a" stroke-width="0.95"/>
<line x1="886.4" y1="663.2" x2="889.6" y2="660.8" stroke="#7a7a7a" stroke-width="0.95"/>
<line x1="891.6" y1="658.1" x2="894.8" y2="655.7" stroke="#7a7a7a" stroke-width="0.95"/>
<line x1="896.8" y1="652.9" x2="900.0" y2="650.5" stroke="#7a7a7a" stroke-width="0.95"/>
<line x1="902.0" y1="647.7" x2="905.2" y2="645.3" stroke="#7a7a7a" stroke-width="0.95"/>
<line x1="886.4" y1="666.2" x2="889.6" y2="663.8" stroke="#7a7a7a" stroke-width="0.95"/>
<line x1="891.6" y1="661.1" x2="894.8" y2="658.7" stroke="#7a7a7a" stroke-width="0.95"/>
<line x1="896.8" y1="655.9" x2="900.0" y2="653.5" stroke="#7a7a7a" stroke-width="0.95"/>
<line x1="902.0" y1="650.7" x2="905.2" y2="648.3" stroke="#7a7a7a" stroke-width="0.95"/>
<line x1="886.4" y1="669.2" x2="889.6" y2="666.8" stroke="#7a7a7a" stroke-width="0.95"/>
<line x1="891.6" y1="664.1" x2="894.8" y2="661.7" stroke="#7a7a7a" stroke-width="0.95"/>
<line x1="896.8" y1="658.9" x2="900.0" y2="656.5" stroke="#7a7a7a" stroke-width="0.95"/>
<line x1="902.0" y1="653.7" x2="905.2" y2="651.3" stroke="#7a7a7a" stroke-width="0.95"/>
<line x1="886.4" y1="672.2" x2="889.6" y2="669.8" stroke="#7a7a7a" stroke-width="0.95"/>
<line x1="891.6" y1="667.1" x2="894.8" y2="664.7" stroke="#7a7a7a" stroke-width="0.95"/>
<line x1="896.8" y1="661.9" x2="900.0" y2="659.5" stroke="#7a7a7a" stroke-width="0.95"/>
<line x1="902.0" y1="656.7" x2="905.2" y2="654.3" stroke="#7a7a7a" stroke-width="0.95"/>
<line x1="886.4" y1="675.2" x2="889.6" y2="672.8" stroke="#7a7a7a" stroke-width="0.95"/>
<line x1="891.6" y1="670.1" x2="894.8" y2="667.7" stroke="#7a7a7a" stroke-width="0.95"/>
<line x1="896.8" y1="664.9" x2="900.0" y2="662.5" stroke="#7a7a7a" stroke-width="0.95"/>
<line x1="902.0" y1="659.7" x2="905.2" y2="657.3" stroke="#7a7a7a" stroke-width="0.95"/>
</g><g id="rparts" fill="none" stroke="#000" stroke-linecap="round" stroke-linejoin="round">
  <!-- 273L dashed box -->
  <path d="M737 537 L737 464 L833 463 L913 514.5 L913 578 L770.5 578 Z" stroke="#1a1a1a" stroke-width="2" stroke-dasharray="26 3 5 3 5 3" stroke-linecap="butt"/>
  <!-- 273L board -->
  <g stroke-width="2" fill="#fff">
    <path d="M803.6 492.4 L818.8 480 L860.8 520 L891 548 Q894 556 888 560 L879 569 L863.6 570.4 L837 566.2 L830 563.4 L819.4 548 L801.2 527 L801.2 517 Z"/>
    <path d="M807.7 492 L853.8 531.2 L842.6 543 L818 523" stroke-width="1.6"/>
    <path d="M830 553 L842.6 550 L872 554.3 L889 551" stroke-width="3"/>
    <path d="M835 558 L844 556.4 L861.5 559.2 L872 561" stroke-width="2.2"/>
    <path d="M833 565 L845 562.5 L862 566 L877 566" stroke-width="1.6"/>
  </g>
  <path d="M775 487 Q776 481 781 481.5 L794 487 L803.6 492.4 L806 500 Q808 508 801 510 L797 508.6 L788 505 L778 499 Q773 494 775 487 Z" fill="#222" stroke-width="2"/>
  <g fill="#fff" stroke="none">
    <ellipse cx="781.4" cy="488.8" rx="1.6" ry="2.4"/><ellipse cx="786.2" cy="492.4" rx="1.5" ry="2.3"/>
    <ellipse cx="795.5" cy="495.5" rx="3.6" ry="1.7" transform="rotate(25 795.5 495.5)"/>
    <circle cx="779.6" cy="496" r="0.8" fill="#999"/><circle cx="783.8" cy="498.4" r="0.8" fill="#999"/><circle cx="788" cy="500.8" r="0.8" fill="#999"/><circle cx="792.8" cy="502.6" r="0.8" fill="#999"/>
  </g>
  <g fill="#000" stroke="none">
    <circle cx="806" cy="502" r="3"/><circle cx="804" cy="509" r="2.4"/><circle cx="811" cy="516" r="2.3"/><circle cx="818" cy="519.4" r="2.3"/><circle cx="821" cy="526" r="2.2"/>
    <circle cx="815" cy="522" r="1.4"/>
    <circle cx="844" cy="528.5" r="1.8"/><circle cx="830" cy="499" r="1.2"/><circle cx="835" cy="503" r="1.2"/>
    <circle cx="856" cy="521" r="1.4"/><circle cx="862" cy="526" r="1.4"/><circle cx="870" cy="542" r="1.8"/>
    <circle cx="814" cy="488" r="1.2"/><circle cx="820" cy="492" r="1.2"/>
    <circle cx="875" cy="546" r="1.8"/><circle cx="878" cy="549" r="1.4"/>
    <circle cx="885" cy="546" r="3"/><circle cx="887" cy="553" r="3"/><circle cx="882" cy="558" r="2.5"/><circle cx="876" cy="563" r="2.2"/>
    <circle cx="843" cy="550" r="2"/>
  </g>
  <g fill="#fff" stroke="#000" stroke-width="1.6">
    <circle cx="836.5" cy="561" r="2.2"/><ellipse cx="874" cy="561" rx="1.2" ry="2.2"/>
  </g>
  <!-- 273N part -->
  <g stroke-width="2" fill="#fff">
    <path d="M746.3 522.1 L766.3 534.1 L761.7 541.9 L741.7 529.9 Z"/>
    <path d="M764.5 535.5 L760.5 542.5" stroke-width="1.6"/>
    <ellipse cx="771" cy="542" rx="2.8" ry="5.8" transform="rotate(-20 771 542)" stroke-width="2.2"/>
    <path d="M769.5 539 L770.5 546" stroke="#555" stroke-width="1.2"/>
  </g>
  <!-- 706A card -->
  <path d="M731 586 L743 573.5 L763 595 Q766 604 758 608.3 L750 608.3 Z" stroke-width="2" fill="#fff"/>
  <!-- 706B bracket -->
  <g stroke-width="2.2" fill="#fff">
    <path d="M736 632.6 L745.9 627.7 L778.1 660.6 Q780 664 777 667 L762 679.5 Q757 683 751.5 681.6 L729.1 661.3 L728.4 646.6 Z"/>
    <path d="M745.9 628 L743 634 L760 652 Q764 656 761 659 L757 661" stroke-width="1.8" fill="none"/>
    <path d="M743 634 Q739 640 744 645 L756 657 Q760 660 762 656" stroke-width="1.6" fill="none"/>
    <path d="M737.5 656.4 L759.2 678 M761 662 L762 679" stroke-width="1.6" fill="none"/>
    <path d="M736 632.6 L733 646 L737 657" stroke-width="2.2" fill="none"/>
    <path d="M741 630 L738.5 647" stroke-width="1.8" fill="none"/>
  </g>
  <g fill="#000" stroke="none">
    <ellipse cx="731.5" cy="647" rx="3" ry="7" transform="rotate(-15 731.5 647)"/>
    <circle cx="741" cy="662" r="3"/><circle cx="756.4" cy="668.3" r="2.3"/><circle cx="767.6" cy="657.8" r="1.8"/><circle cx="773.2" cy="661.3" r="1.2"/>
  </g>
  <!-- 705C clip -->
  <path d="M662 663 Q663 660.5 670 660.8 L671.8 666.8 L675.8 666.8 Q679 668 678.6 672.4 L677.4 680.4 L671 682 L668.2 683 L663 687.6 L661.8 666 Z" fill="#000" stroke-width="1.2"/>
  <ellipse cx="666.5" cy="666" rx="1.5" ry="1" fill="#fff" stroke="none"/>
  <ellipse cx="665.8" cy="677.5" rx="0.8" ry="1.6" fill="#fff" stroke="none"/>
  <path d="M668 668 Q671 672 668 676" stroke="#888" stroke-width="0.8"/>
  <!-- 705B bracket -->
  <g stroke-width="2" fill="#fff">
    <path d="M669.8 704 L665 708 L666 712 L669.8 711 L669.8 756 Q670 766 680 766 L684 766 Q691.5 766 691.5 758 L691.5 696 Q691.5 688 684 688 L676 688 Q672 688 672 694 L672 704 Z"/>
  </g>
  <path d="M672.5 693 L687.5 693 L687.5 759 L680 762 L675 757 L675 701 L672.5 701 Z" fill="#000" stroke="none"/>
  <path d="M679.3 700 L682 700 L682 754 L679.3 754 Z" fill="#fff" stroke="none"/>
  <g fill="#000" stroke="none"><circle cx="688.5" cy="718" r="1.1"/><circle cx="688.5" cy="735" r="1.1"/><circle cx="688" cy="742" r="1.1"/><circle cx="672" cy="732" r="1"/></g>
  <!-- 705A plate -->
  <path d="M684.5 774 L701.5 753.5 Q705 750 709 753 L713 757.5 Q715 762 712 765 L691 788 Q685 791 683 785 Z" stroke-width="2.2" fill="#fff"/>
  <path d="M688 786.5 L711.5 762" stroke-width="3.6"/>
  <path d="M683.5 784 L684.8 774.5 L689 770 L690 786 Z" fill="#000" stroke-width="1.5"/>
  <circle cx="704.6" cy="762.5" r="1.4" fill="#000" stroke="none"/>
  <!-- small pins right 273P 273Q -->
  <g stroke-width="1.8" fill="#fff">
    <ellipse cx="874.2" cy="630.5" rx="1.9" ry="4.6"/>
  </g>
  <circle cx="874.2" cy="621.5" r="2.4" fill="#000" stroke="none"/>
  <path d="M882.3 618 Q885.5 611.5 889 617.5 Q889.5 621.5 887 624.5 L885.6 627.5 L884.3 624.5 Q882 621.5 882.3 618 Z" fill="#000" stroke-width="1"/>
  <!-- 273K dashed box -->
  <path d="M516.5 779 L516.5 679 L615 677.5 L655.3 770 L655.3 821 L539.6 821 Z" stroke="#1a1a1a" stroke-width="2" stroke-dasharray="26 3 5 3 5 3" stroke-linecap="butt"/>
  <!-- 273K board -->
  <g stroke-width="2.1" fill="#fff">
    <path d="M567.5 727.5 L575 722 L588.8 707.5 L615 731 L621 731 L634 747.5 L636 752 L645 786.3 L643.8 795 Q640 806 632.5 812.5 L630 811.3 L571.3 756.3 L571.3 748.8 L565 735 Z"/>
    <path d="M573.8 725 L588.8 707.5 L615 731 L621 731 L634 747.5 L617.5 766.3 Z" stroke-width="2"/>
    <path d="M576 750 L628 800" stroke-width="1.4"/>
  </g>
  <path d="M561 697 Q562 691 567 696 L578 713 Q580 721 574 720 L567 714 Q560 705 561 697 Z" fill="#3a3a3a" stroke-width="2.4"/>
  <g fill="#fff" stroke="none">
    <ellipse cx="563.5" cy="701" rx="1" ry="1.4"/><ellipse cx="567.5" cy="703" rx="1" ry="1.3"/><ellipse cx="570" cy="706" rx="1.2" ry="1.2"/>
    <ellipse cx="574" cy="714" rx="1.3" ry="3" transform="rotate(-30 574 714)"/>
  </g>
  <g fill="#000" stroke="none">
    <circle cx="615" cy="757" r="2"/><circle cx="588" cy="717" r="2.2"/><circle cx="586.5" cy="720" r="1.6"/><circle cx="594" cy="723" r="1.4"/><circle cx="603" cy="729" r="1.4"/>
    <circle cx="600" cy="730" r="1.5"/><circle cx="611" cy="732" r="1.6"/><circle cx="577" cy="733" r="1.4"/>
    <circle cx="628" cy="781" r="1.8"/><circle cx="608" cy="771" r="1.4"/><circle cx="610" cy="779" r="1.4"/><circle cx="616" cy="785" r="1.4"/>
    <circle cx="638" cy="798" r="3"/><circle cx="641" cy="789" r="2.8"/><circle cx="634" cy="804" r="2.8"/><circle cx="631" cy="793" r="2"/><circle cx="626" cy="803" r="1.6"/>
    <circle cx="580" cy="744" r="1.4"/><circle cx="584" cy="749" r="1.4"/><circle cx="573" cy="738" r="1.6"/>
    <circle cx="598" cy="773" r="1.2"/><circle cx="620" cy="793" r="1.2"/>
  </g>
  <ellipse cx="588" cy="764" rx="3" ry="4" stroke-width="1.5" fill="#fff"/>
  <ellipse cx="607" cy="787" rx="2.5" ry="3" stroke-width="1.5" fill="#fff"/>
  <!-- 273M pin -->
  <g stroke-width="2.1" fill="#fff">
    <rect x="-3.7" y="-3.5" width="7.4" height="28" rx="3.7" transform="translate(531 739) rotate(-21.6)"/>
    <ellipse cx="544.8" cy="767.5" rx="3.3" ry="5.2" transform="rotate(-25 544.8 767.5)" stroke-width="2.3"/>
    <path d="M539 758 L541 763" stroke="#444" stroke-width="1.5"/>
  </g>
  <!-- 273R pin -->
  <path d="M605 847 L605 866 Q607 870 609 866 L609 847 Z" fill="#fff" stroke-width="1.9"/>
  <circle cx="606.8" cy="845.5" r="2.8" fill="#000" stroke="none"/>
  <!-- 273Q screw bottom -->
  <path d="M634.5 857 Q637.5 850 641.5 856.5 Q642 861 639.5 864 L638 866.5 L636.5 864 Q634 861 634.5 857 Z" fill="#000" stroke-width="1"/>
  <path d="M636.5 855.5 L637.8 858.5 L639.5 855.5" stroke="#777" stroke-width="0.8" fill="none"/>
  <!-- 273P pin bottom -->
  <path d="M644.8 840 L644.8 851 Q646.7 853 648.6 851 L648.6 840 Z" fill="#fff" stroke-width="1.9"/>
  <circle cx="646.7" cy="839.2" r="2.9" fill="#000" stroke="none"/>
</g>

<g stroke="#111" stroke-width="1.3" fill="none">
<line x1="259" y1="222" x2="272" y2="250"/>
<line x1="414" y1="172" x2="393" y2="177"/>
<line x1="344" y1="240" x2="325" y2="247"/>
<line x1="333.5" y1="272" x2="316" y2="270"/>
<line x1="304.5" y1="299" x2="295.5" y2="296"/>
<line x1="404" y1="258" x2="421" y2="265"/>
<line x1="693" y1="354" x2="669" y2="380"/>
<line x1="341" y1="596" x2="370" y2="580"/>
<line x1="870" y1="446" x2="846" y2="470"/>
<line x1="756" y1="494" x2="753.5" y2="523"/>
<line x1="716" y1="617" x2="732" y2="641.5"/>
<line x1="781" y1="607" x2="765" y2="600"/>
<line x1="863" y1="614" x2="870" y2="628"/>
<line x1="898" y1="609" x2="888" y2="625"/>
<line x1="687" y1="643" x2="671" y2="661"/>
<line x1="710" y1="720" x2="693" y2="739"/>
<line x1="730" y1="747" x2="710" y2="759"/>
<line x1="841" y1="777" x2="833" y2="740"/>
<line x1="506" y1="802" x2="532" y2="754"/>
<line x1="561" y1="870" x2="586" y2="822"/>
<line x1="591" y1="879" x2="606" y2="851"/>
<line x1="609" y1="911" x2="638" y2="860"/>
<line x1="652" y1="878" x2="647" y2="846"/>
</g>
<ellipse cx="252" cy="209" rx="14.1" ry="14" fill="#fff" stroke="#151515" stroke-width="1.8"/>
<text x="252" y="213.2" text-anchor="middle" font-size="13.5" font-weight="bold" textLength="19.2" lengthAdjust="spacingAndGlyphs" fill="#3c3c3c">621C</text>
<ellipse cx="427" cy="163" rx="14.1" ry="14" fill="#fff" stroke="#151515" stroke-width="1.8"/>
<text x="427" y="167.2" text-anchor="middle" font-size="13.5" font-weight="bold" textLength="19.2" lengthAdjust="spacingAndGlyphs" fill="#3c3c3c">627B</text>
<ellipse cx="357.5" cy="234" rx="14.1" ry="14" fill="#fff" stroke="#151515" stroke-width="1.8"/>
<text x="357.5" y="238.2" text-anchor="middle" font-size="13.5" font-weight="bold" textLength="19.2" lengthAdjust="spacingAndGlyphs" fill="#3c3c3c">627J</text>
<ellipse cx="347" cy="267" rx="14.1" ry="14" fill="#fff" stroke="#151515" stroke-width="1.8"/>
<text x="347" y="271.2" text-anchor="middle" font-size="13.5" font-weight="bold" textLength="19.2" lengthAdjust="spacingAndGlyphs" fill="#3c3c3c">627A</text>
<ellipse cx="318" cy="300.5" rx="14.1" ry="14" fill="#fff" stroke="#151515" stroke-width="1.8"/>
<text x="318" y="304.7" text-anchor="middle" font-size="13.5" font-weight="bold" textLength="19.2" lengthAdjust="spacingAndGlyphs" fill="#3c3c3c">621D</text>
<ellipse cx="391.4" cy="253.3" rx="14.1" ry="14" fill="#fff" stroke="#151515" stroke-width="1.8"/>
<text x="391.4" y="257.5" text-anchor="middle" font-size="13.5" font-weight="bold" textLength="19.2" lengthAdjust="spacingAndGlyphs" fill="#3c3c3c">702A</text>
<ellipse cx="701.5" cy="342" rx="14.1" ry="14" fill="#fff" stroke="#151515" stroke-width="1.8"/>
<text x="701.5" y="346.2" text-anchor="middle" font-size="13.5" font-weight="bold" textLength="19.2" lengthAdjust="spacingAndGlyphs" fill="#3c3c3c">103A</text>
<ellipse cx="336" cy="608" rx="14.1" ry="14" fill="#fff" stroke="#151515" stroke-width="1.8"/>
<text x="336" y="612.2" text-anchor="middle" font-size="13.5" font-weight="bold" textLength="19.2" lengthAdjust="spacingAndGlyphs" fill="#3c3c3c">103A</text>
<ellipse cx="878.2" cy="433" rx="14.1" ry="14" fill="#fff" stroke="#151515" stroke-width="1.8"/>
<text x="878.2" y="437.2" text-anchor="middle" font-size="13.5" font-weight="bold" textLength="19.2" lengthAdjust="spacingAndGlyphs" fill="#3c3c3c">273L</text>
<ellipse cx="756" cy="481" rx="14.1" ry="14" fill="#fff" stroke="#151515" stroke-width="1.8"/>
<text x="756" y="485.2" text-anchor="middle" font-size="13.5" font-weight="bold" textLength="19.2" lengthAdjust="spacingAndGlyphs" fill="#3c3c3c">273N</text>
<ellipse cx="716.2" cy="603" rx="14.1" ry="14" fill="#fff" stroke="#151515" stroke-width="1.8"/>
<text x="716.2" y="607.2" text-anchor="middle" font-size="13.5" font-weight="bold" textLength="19.2" lengthAdjust="spacingAndGlyphs" fill="#3c3c3c">706B</text>
<ellipse cx="794.5" cy="606" rx="14.1" ry="14" fill="#fff" stroke="#151515" stroke-width="1.8"/>
<text x="794.5" y="610.2" text-anchor="middle" font-size="13.5" font-weight="bold" textLength="19.2" lengthAdjust="spacingAndGlyphs" fill="#3c3c3c">706A</text>
<ellipse cx="861.5" cy="601" rx="14.1" ry="14" fill="#fff" stroke="#151515" stroke-width="1.8"/>
<text x="861.5" y="605.2" text-anchor="middle" font-size="13.5" font-weight="bold" textLength="19.2" lengthAdjust="spacingAndGlyphs" fill="#3c3c3c">273P</text>
<ellipse cx="902.5" cy="596" rx="14.1" ry="14" fill="#fff" stroke="#151515" stroke-width="1.8"/>
<text x="902.5" y="600.2" text-anchor="middle" font-size="13.5" font-weight="bold" textLength="19.2" lengthAdjust="spacingAndGlyphs" fill="#3c3c3c">273Q</text>
<ellipse cx="696.5" cy="632" rx="14.1" ry="14" fill="#fff" stroke="#151515" stroke-width="1.8"/>
<text x="696.5" y="636.2" text-anchor="middle" font-size="13.5" font-weight="bold" textLength="19.2" lengthAdjust="spacingAndGlyphs" fill="#3c3c3c">705C</text>
<ellipse cx="719" cy="707.5" rx="14.1" ry="14" fill="#fff" stroke="#151515" stroke-width="1.8"/>
<text x="719" y="711.7" text-anchor="middle" font-size="13.5" font-weight="bold" textLength="19.2" lengthAdjust="spacingAndGlyphs" fill="#3c3c3c">705B</text>
<ellipse cx="738.5" cy="735" rx="14.1" ry="14" fill="#fff" stroke="#151515" stroke-width="1.8"/>
<text x="738.5" y="739.2" text-anchor="middle" font-size="13.5" font-weight="bold" textLength="19.2" lengthAdjust="spacingAndGlyphs" fill="#3c3c3c">705A</text>
<ellipse cx="843" cy="792" rx="14.1" ry="14" fill="#fff" stroke="#151515" stroke-width="1.8"/>
<text x="843" y="796.2" text-anchor="middle" font-size="13.5" font-weight="bold" textLength="19.2" lengthAdjust="spacingAndGlyphs" fill="#3c3c3c">105B</text>
<ellipse cx="500.5" cy="815" rx="14.1" ry="14" fill="#fff" stroke="#151515" stroke-width="1.8"/>
<text x="500.5" y="819.2" text-anchor="middle" font-size="13.5" font-weight="bold" textLength="19.2" lengthAdjust="spacingAndGlyphs" fill="#3c3c3c">273M</text>
<ellipse cx="555.5" cy="883" rx="14.1" ry="14" fill="#fff" stroke="#151515" stroke-width="1.8"/>
<text x="555.5" y="887.2" text-anchor="middle" font-size="13.5" font-weight="bold" textLength="19.2" lengthAdjust="spacingAndGlyphs" fill="#3c3c3c">273K</text>
<ellipse cx="586" cy="892" rx="14.1" ry="14" fill="#fff" stroke="#151515" stroke-width="1.8"/>
<text x="586" y="896.2" text-anchor="middle" font-size="13.5" font-weight="bold" textLength="19.2" lengthAdjust="spacingAndGlyphs" fill="#3c3c3c">273R</text>
<ellipse cx="605" cy="924" rx="14.1" ry="14" fill="#fff" stroke="#151515" stroke-width="1.8"/>
<text x="605" y="928.2" text-anchor="middle" font-size="13.5" font-weight="bold" textLength="19.2" lengthAdjust="spacingAndGlyphs" fill="#3c3c3c">273Q</text>
<ellipse cx="654" cy="892" rx="14.1" ry="14" fill="#fff" stroke="#151515" stroke-width="1.8"/>
<text x="654" y="896.2" text-anchor="middle" font-size="13.5" font-weight="bold" textLength="19.2" lengthAdjust="spacingAndGlyphs" fill="#3c3c3c">273P</text>
</svg>
</body></html>
